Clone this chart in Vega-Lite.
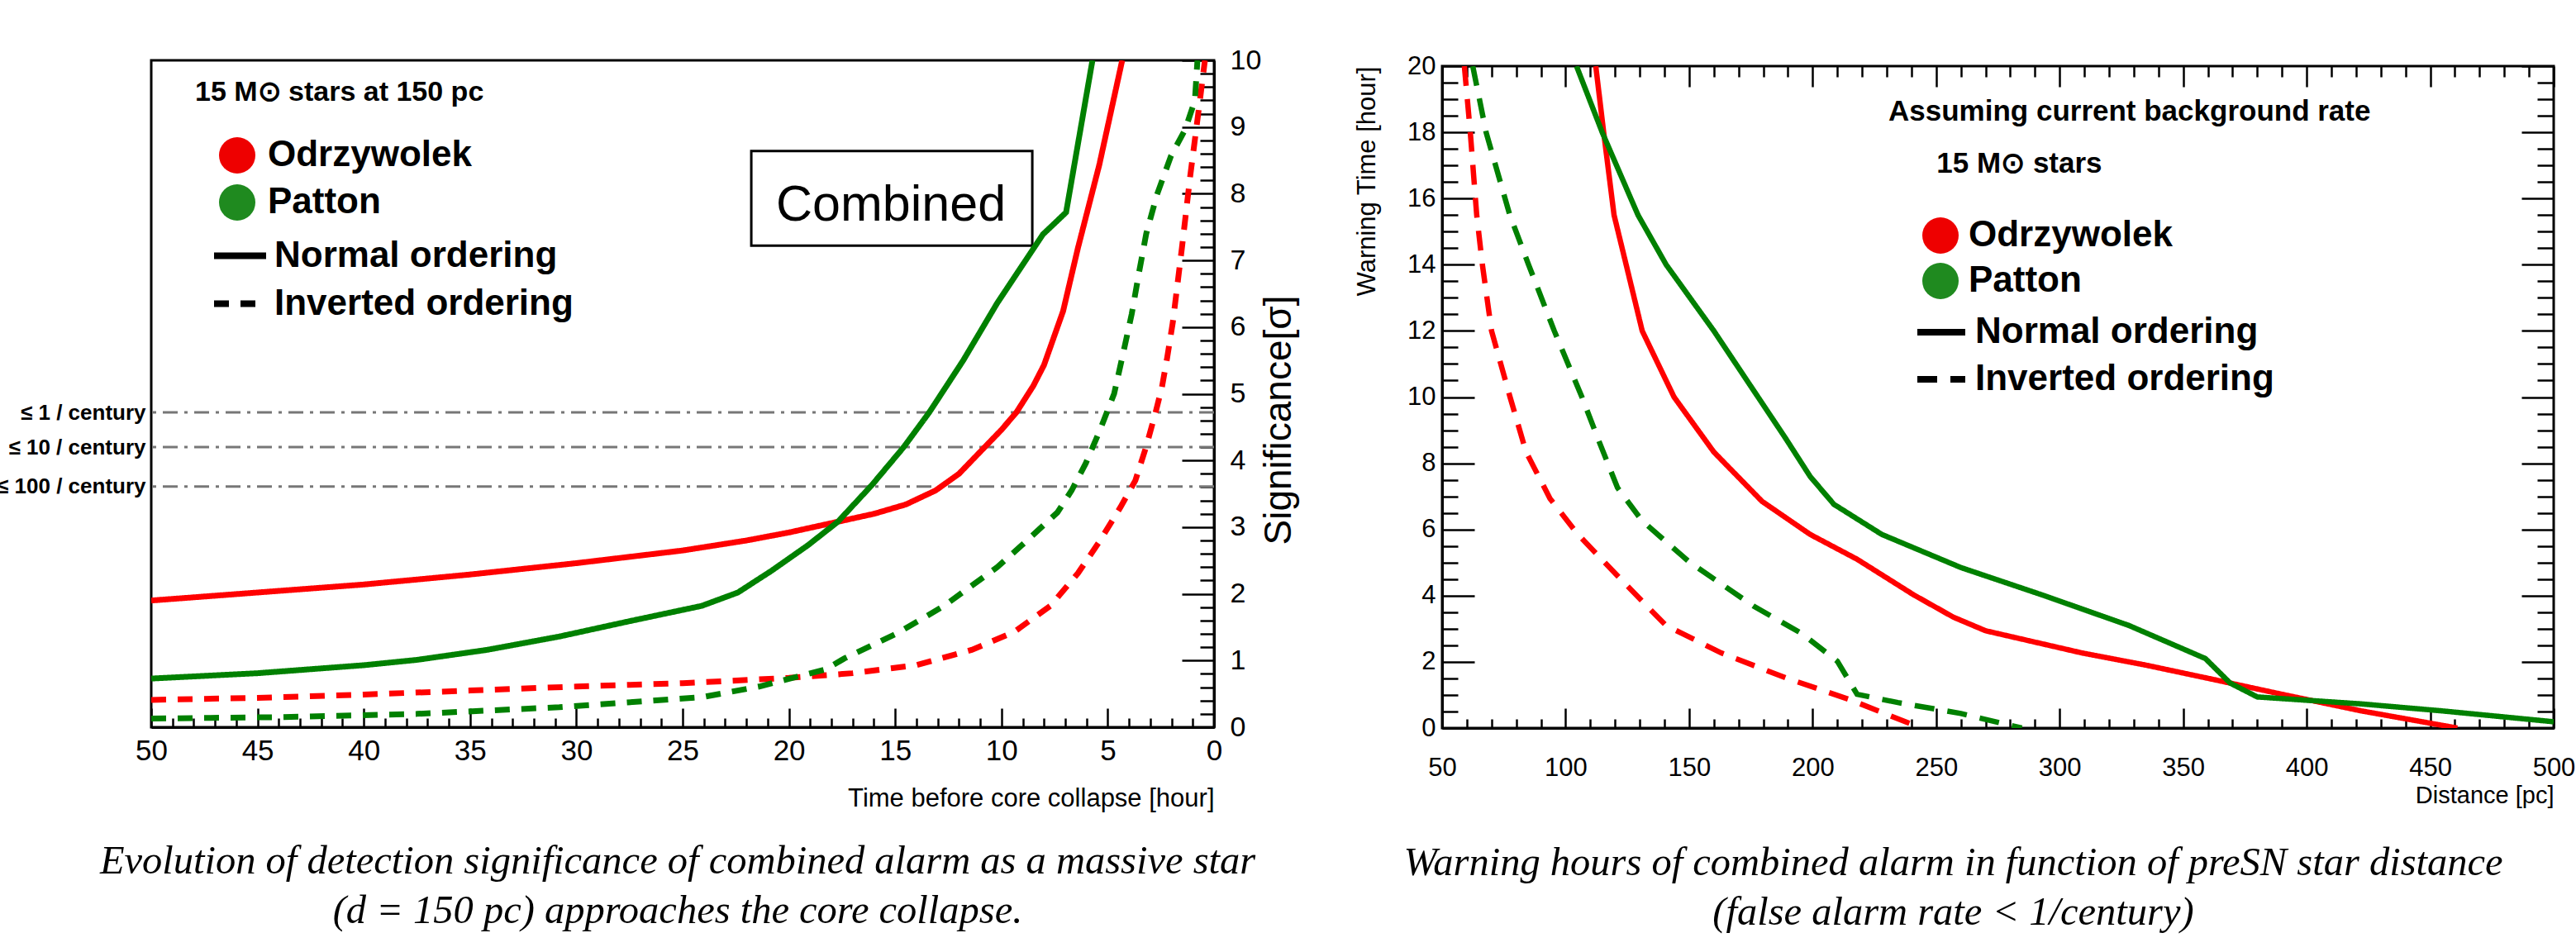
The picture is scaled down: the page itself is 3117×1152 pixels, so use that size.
{
  "$schema": "https://vega.github.io/schema/vega-lite/v6.json",
  "autosize": {"type": "none"},
  "padding": {"left": 183, "top": 73, "right": 2934, "bottom": 1079},
  "background": "white",
  "bounds": "flush",
  "spacing": 276,
  "datasets": {
    "left": [
      {"m":"Odrzywolek","o":"Normal ordering","h":50,"s":1.90},{"m":"Odrzywolek","o":"Normal ordering","h":45,"s":2.02},{"m":"Odrzywolek","o":"Normal ordering","h":40,"s":2.14},{"m":"Odrzywolek","o":"Normal ordering","h":35,"s":2.29},{"m":"Odrzywolek","o":"Normal ordering","h":30,"s":2.46},{"m":"Odrzywolek","o":"Normal ordering","h":25,"s":2.65},{"m":"Odrzywolek","o":"Normal ordering","h":22,"s":2.80},{"m":"Odrzywolek","o":"Normal ordering","h":20,"s":2.92},{"m":"Odrzywolek","o":"Normal ordering","h":18,"s":3.06},{"m":"Odrzywolek","o":"Normal ordering","h":16,"s":3.20},{"m":"Odrzywolek","o":"Normal ordering","h":14.5,"s":3.34},{"m":"Odrzywolek","o":"Normal ordering","h":13.1,"s":3.55},{"m":"Odrzywolek","o":"Normal ordering","h":12,"s":3.80},{"m":"Odrzywolek","o":"Normal ordering","h":11,"s":4.13},{"m":"Odrzywolek","o":"Normal ordering","h":10,"s":4.46},{"m":"Odrzywolek","o":"Normal ordering","h":9.3,"s":4.72},{"m":"Odrzywolek","o":"Normal ordering","h":8.5,"s":5.12},{"m":"Odrzywolek","o":"Normal ordering","h":8,"s":5.43},{"m":"Odrzywolek","o":"Normal ordering","h":7.1,"s":6.24},{"m":"Odrzywolek","o":"Normal ordering","h":6.4,"s":7.19},{"m":"Odrzywolek","o":"Normal ordering","h":5.4,"s":8.43},{"m":"Odrzywolek","o":"Normal ordering","h":4.32,"s":10},
      {"m":"Patton","o":"Normal ordering","h":50,"s":0.73},{"m":"Patton","o":"Normal ordering","h":45,"s":0.81},{"m":"Patton","o":"Normal ordering","h":40,"s":0.93},{"m":"Patton","o":"Normal ordering","h":37.5,"s":1.01},{"m":"Patton","o":"Normal ordering","h":34.2,"s":1.16},{"m":"Patton","o":"Normal ordering","h":30.8,"s":1.36},{"m":"Patton","o":"Normal ordering","h":27.5,"s":1.59},{"m":"Patton","o":"Normal ordering","h":24.1,"s":1.82},{"m":"Patton","o":"Normal ordering","h":22.4,"s":2.02},{"m":"Patton","o":"Normal ordering","h":20.8,"s":2.35},{"m":"Patton","o":"Normal ordering","h":19.1,"s":2.73},{"m":"Patton","o":"Normal ordering","h":17.7,"s":3.08},{"m":"Patton","o":"Normal ordering","h":16.1,"s":3.63},{"m":"Patton","o":"Normal ordering","h":14.6,"s":4.20},{"m":"Patton","o":"Normal ordering","h":13.4,"s":4.72},{"m":"Patton","o":"Normal ordering","h":11.8,"s":5.5},{"m":"Patton","o":"Normal ordering","h":10.2,"s":6.36},{"m":"Patton","o":"Normal ordering","h":8.05,"s":7.39},{"m":"Patton","o":"Normal ordering","h":6.96,"s":7.72},{"m":"Patton","o":"Normal ordering","h":5.72,"s":10},
      {"m":"Odrzywolek","o":"Inverted ordering","h":50,"s":0.41},{"m":"Odrzywolek","o":"Inverted ordering","h":45,"s":0.44},{"m":"Odrzywolek","o":"Inverted ordering","h":40,"s":0.49},{"m":"Odrzywolek","o":"Inverted ordering","h":35,"s":0.55},{"m":"Odrzywolek","o":"Inverted ordering","h":30,"s":0.61},{"m":"Odrzywolek","o":"Inverted ordering","h":25,"s":0.66},{"m":"Odrzywolek","o":"Inverted ordering","h":20,"s":0.74},{"m":"Odrzywolek","o":"Inverted ordering","h":17,"s":0.81},{"m":"Odrzywolek","o":"Inverted ordering","h":14,"s":0.93},{"m":"Odrzywolek","o":"Inverted ordering","h":11.4,"s":1.16},{"m":"Odrzywolek","o":"Inverted ordering","h":9.4,"s":1.43},{"m":"Odrzywolek","o":"Inverted ordering","h":7.7,"s":1.82},{"m":"Odrzywolek","o":"Inverted ordering","h":6.4,"s":2.31},{"m":"Odrzywolek","o":"Inverted ordering","h":5.4,"s":2.78},{"m":"Odrzywolek","o":"Inverted ordering","h":4.4,"s":3.3},{"m":"Odrzywolek","o":"Inverted ordering","h":3.7,"s":3.7},{"m":"Odrzywolek","o":"Inverted ordering","h":3.2,"s":4.2},{"m":"Odrzywolek","o":"Inverted ordering","h":2.75,"s":4.72},{"m":"Odrzywolek","o":"Inverted ordering","h":2.45,"s":5.1},{"m":"Odrzywolek","o":"Inverted ordering","h":2.2,"s":5.55},{"m":"Odrzywolek","o":"Inverted ordering","h":1.94,"s":6.07},{"m":"Odrzywolek","o":"Inverted ordering","h":1.51,"s":7.19},{"m":"Odrzywolek","o":"Inverted ordering","h":1.13,"s":8.24},{"m":"Odrzywolek","o":"Inverted ordering","h":0.68,"s":9.36},{"m":"Odrzywolek","o":"Inverted ordering","h":0.43,"s":10},
      {"m":"Patton","o":"Inverted ordering","h":50,"s":0.13},{"m":"Patton","o":"Inverted ordering","h":44.2,"s":0.15},{"m":"Patton","o":"Inverted ordering","h":37.5,"s":0.20},{"m":"Patton","o":"Inverted ordering","h":30.8,"s":0.30},{"m":"Patton","o":"Inverted ordering","h":24.1,"s":0.45},{"m":"Patton","o":"Inverted ordering","h":21.4,"s":0.61},{"m":"Patton","o":"Inverted ordering","h":18.25,"s":0.87},{"m":"Patton","o":"Inverted ordering","h":17.4,"s":1.03},{"m":"Patton","o":"Inverted ordering","h":14.9,"s":1.41},{"m":"Patton","o":"Inverted ordering","h":12.7,"s":1.82},{"m":"Patton","o":"Inverted ordering","h":10.2,"s":2.40},{"m":"Patton","o":"Inverted ordering","h":9.04,"s":2.73},{"m":"Patton","o":"Inverted ordering","h":7.37,"s":3.22},{"m":"Patton","o":"Inverted ordering","h":6.7,"s":3.55},{"m":"Patton","o":"Inverted ordering","h":6.03,"s":3.96},{"m":"Patton","o":"Inverted ordering","h":5.36,"s":4.46},{"m":"Patton","o":"Inverted ordering","h":4.86,"s":4.87},{"m":"Patton","o":"Inverted ordering","h":4.7,"s":5.0},{"m":"Patton","o":"Inverted ordering","h":4.28,"s":5.6},{"m":"Patton","o":"Inverted ordering","h":3.87,"s":6.2},{"m":"Patton","o":"Inverted ordering","h":3.54,"s":6.8},{"m":"Patton","o":"Inverted ordering","h":3.19,"s":7.4},{"m":"Patton","o":"Inverted ordering","h":2.68,"s":7.99},{"m":"Patton","o":"Inverted ordering","h":2.02,"s":8.57},{"m":"Patton","o":"Inverted ordering","h":1.36,"s":8.96},{"m":"Patton","o":"Inverted ordering","h":0.9,"s":9.4},{"m":"Patton","o":"Inverted ordering","h":0.78,"s":10}
    ],
    "right": [
      {"m":"Odrzywolek","o":"Normal ordering","d":112.2,"t":20},{"m":"Odrzywolek","o":"Normal ordering","d":115.4,"t":18},{"m":"Odrzywolek","o":"Normal ordering","d":119.6,"t":15.5},{"m":"Odrzywolek","o":"Normal ordering","d":124.5,"t":14},{"m":"Odrzywolek","o":"Normal ordering","d":131,"t":12},{"m":"Odrzywolek","o":"Normal ordering","d":143.9,"t":10},{"m":"Odrzywolek","o":"Normal ordering","d":150.3,"t":9.34},{"m":"Odrzywolek","o":"Normal ordering","d":160,"t":8.34},{"m":"Odrzywolek","o":"Normal ordering","d":179.5,"t":6.85},{"m":"Odrzywolek","o":"Normal ordering","d":199,"t":5.85},{"m":"Odrzywolek","o":"Normal ordering","d":218,"t":5.1},{"m":"Odrzywolek","o":"Normal ordering","d":241,"t":4.02},{"m":"Odrzywolek","o":"Normal ordering","d":257,"t":3.35},{"m":"Odrzywolek","o":"Normal ordering","d":270,"t":2.94},{"m":"Odrzywolek","o":"Normal ordering","d":309,"t":2.27},{"m":"Odrzywolek","o":"Normal ordering","d":335,"t":1.9},{"m":"Odrzywolek","o":"Normal ordering","d":364,"t":1.44},{"m":"Odrzywolek","o":"Normal ordering","d":390,"t":1.02},{"m":"Odrzywolek","o":"Normal ordering","d":422,"t":0.52},{"m":"Odrzywolek","o":"Normal ordering","d":461,"t":0},
      {"m":"Patton","o":"Normal ordering","d":104.4,"t":20},{"m":"Patton","o":"Normal ordering","d":114.8,"t":18},{"m":"Patton","o":"Normal ordering","d":129.3,"t":15.5},{"m":"Patton","o":"Normal ordering","d":140.7,"t":14},{"m":"Patton","o":"Normal ordering","d":160,"t":12},{"m":"Patton","o":"Normal ordering","d":177.9,"t":10},{"m":"Patton","o":"Normal ordering","d":189,"t":8.76},{"m":"Patton","o":"Normal ordering","d":199,"t":7.6},{"m":"Patton","o":"Normal ordering","d":208.6,"t":6.76},{"m":"Patton","o":"Normal ordering","d":228,"t":5.85},{"m":"Patton","o":"Normal ordering","d":260,"t":4.85},{"m":"Patton","o":"Normal ordering","d":293,"t":4.02},{"m":"Patton","o":"Normal ordering","d":328,"t":3.1},{"m":"Patton","o":"Normal ordering","d":359,"t":2.1},{"m":"Patton","o":"Normal ordering","d":369,"t":1.36},{"m":"Patton","o":"Normal ordering","d":380,"t":0.94},{"m":"Patton","o":"Normal ordering","d":422,"t":0.73},{"m":"Patton","o":"Normal ordering","d":454.6,"t":0.52},{"m":"Patton","o":"Normal ordering","d":500,"t":0.19},
      {"m":"Odrzywolek","o":"Inverted ordering","d":59,"t":20},{"m":"Odrzywolek","o":"Inverted ordering","d":61.4,"t":18},{"m":"Odrzywolek","o":"Inverted ordering","d":64,"t":15.5},{"m":"Odrzywolek","o":"Inverted ordering","d":66.3,"t":14},{"m":"Odrzywolek","o":"Inverted ordering","d":70,"t":12},{"m":"Odrzywolek","o":"Inverted ordering","d":77.5,"t":10},{"m":"Odrzywolek","o":"Inverted ordering","d":84,"t":8.34},{"m":"Odrzywolek","o":"Inverted ordering","d":93.7,"t":6.93},{"m":"Odrzywolek","o":"Inverted ordering","d":105,"t":5.85},{"m":"Odrzywolek","o":"Inverted ordering","d":121,"t":4.6},{"m":"Odrzywolek","o":"Inverted ordering","d":140.6,"t":3.1},{"m":"Odrzywolek","o":"Inverted ordering","d":163,"t":2.27},{"m":"Odrzywolek","o":"Inverted ordering","d":189,"t":1.52},{"m":"Odrzywolek","o":"Inverted ordering","d":215,"t":0.86},{"m":"Odrzywolek","o":"Inverted ordering","d":244,"t":0},
      {"m":"Patton","o":"Inverted ordering","d":62.4,"t":20},{"m":"Patton","o":"Inverted ordering","d":67.8,"t":18},{"m":"Patton","o":"Inverted ordering","d":77.4,"t":15.5},{"m":"Patton","o":"Inverted ordering","d":85,"t":14},{"m":"Patton","o":"Inverted ordering","d":95.4,"t":12},{"m":"Patton","o":"Inverted ordering","d":106.6,"t":10},{"m":"Patton","o":"Inverted ordering","d":113,"t":8.76},{"m":"Patton","o":"Inverted ordering","d":121,"t":7.26},{"m":"Patton","o":"Inverted ordering","d":131,"t":6.26},{"m":"Patton","o":"Inverted ordering","d":150,"t":5.02},{"m":"Patton","o":"Inverted ordering","d":176,"t":3.69},{"m":"Patton","o":"Inverted ordering","d":195.7,"t":2.85},{"m":"Patton","o":"Inverted ordering","d":210,"t":2.02},{"m":"Patton","o":"Inverted ordering","d":218,"t":1.02},{"m":"Patton","o":"Inverted ordering","d":234.5,"t":0.77},{"m":"Patton","o":"Inverted ordering","d":260,"t":0.44},{"m":"Patton","o":"Inverted ordering","d":284.7,"t":0}
    ]
  },
  "resolve": {
    "scale": {"color": "independent", "strokeDash": "independent"},
    "legend": {"color": "independent", "strokeDash": "independent"}
  },
  "hconcat": [
    {
      "width": 1286,
      "height": 807,
      "title": {
        "text": ["Evolution of detection significance of combined alarm as a massive star", "(d = 150 pc) approaches the core collapse."],
        "orient": "bottom", "frame": "group", "anchor": "middle", "offset": 38, "dx": -6, "baseline": "top"
      },
      "resolve": {"axis": {"x": "independent", "y": "independent"}},
      "layer": [
        {
          "data": {"values": [{"v": 4.72, "rate": "≤ 1 / century"}, {"v": 4.2, "rate": "≤ 10 / century"}, {"v": 3.61, "rate": "≤ 100 / century"}]},
          "mark": {"type": "rule", "color": "#777777", "strokeWidth": 3, "strokeDash": [18, 8, 4, 8]},
          "encoding": {
            "y": {"field": "v", "type": "quantitative", "scale": {"domain": [0, 10], "nice": false, "zero": false},
              "axis": {"orient": "left", "values": [3.61, 4.2, 4.72], "labelExpr": "datum.value > 4.5 ? '≤ 1 / century' : (datum.value > 4 ? '≤ 10 / century' : '≤ 100 / century')", "ticks": false, "tickSize": 0, "domain": false, "labelFontSize": 26, "labelFontWeight": "bold", "labelPadding": 7, "title": null}}
          }
        },
        {
          "data": {"values": [{"label": "Combined", "h1": 21.77, "h2": 8.55, "s1": 7.22, "s2": 8.64, "hc": 15.2, "sc": 7.6}]},
          "layer": [
            {
              "mark": {"type": "rect", "fill": "white", "stroke": "black", "strokeWidth": 3},
              "encoding": {
                "x": {"field": "h1", "type": "quantitative", "scale": {"domain": [0, 50], "reverse": true, "nice": false}, "axis": null},
                "x2": {"field": "h2"},
                "y": {"field": "s1", "type": "quantitative", "scale": {"domain": [0, 10], "nice": false, "zero": false}, "axis": null},
                "y2": {"field": "s2"}
              }
            },
            {
              "mark": {"type": "text", "font": "Liberation Sans", "fontSize": 61, "align": "center", "baseline": "alphabetic", "color": "black"},
              "encoding": {
                "x": {"field": "hc", "type": "quantitative", "scale": {"domain": [0, 50], "reverse": true, "nice": false}, "axis": null},
                "y": {"field": "sc", "type": "quantitative", "scale": {"domain": [0, 10], "nice": false, "zero": false}, "axis": null},
                "text": {"field": "label"}
              }
            }
          ]
        },
        {
          "data": {"name": "left"},
          "mark": {"type": "line", "strokeWidth": 7, "clip": true},
          "encoding": {
            "x": {"field": "h", "type": "quantitative", "scale": {"domain": [0, 50], "reverse": true, "nice": false},
              "axis": {"orient": "bottom", "values": [0, 5, 10, 15, 20, 25, 30, 35, 40, 45, 50], "tickSize": -23, "labelFontSize": 35, "labelPadding": 34,
                "title": "Time before core collapse [hour]", "titleFontSize": 31, "titleX": 1286, "titleY": 95, "titleAlign": "right", "titleBaseline": "alphabetic"}},
            "y": {"field": "s", "type": "quantitative", "scale": {"domain": [0, 10], "nice": false, "zero": false},
              "axis": {"orient": "right", "values": [0, 1, 2, 3, 4, 5, 6, 7, 8, 9, 10], "tickSize": -39, "labelFontSize": 34, "labelPadding": 58,
                "title": "Significance[σ]", "titleFontSize": 46, "titleAngle": -90, "titleX": 92, "titleY": 435, "titleAlign": "center", "titleBaseline": "alphabetic"}},
            "color": {"field": "m", "type": "nominal", "scale": {"domain": ["Odrzywolek", "Patton"], "range": ["#ff0000", "#008000"]},
              "legend": {"orient": "none", "legendX": 53, "legendY": 22, "title": "15 M⊙ stars at 150 pc", "titleFontSize": 34, "titlePadding": 37,
                "symbolType": "circle", "symbolSize": 1936, "symbolOffset": 29, "symbolStrokeWidth": 0, "labelFontSize": 44, "labelOffset": 15, "rowPadding": 13,
                "encode": {"symbols": {"update": {"fill": {"signal": "datum.value === 'Odrzywolek' ? '#ee0000' : '#1f8a1f'"}, "opacity": {"value": 1}}}}}},
            "strokeDash": {"field": "o", "type": "nominal", "scale": {"domain": ["Normal ordering", "Inverted ordering"], "range": [[1, 0], [18, 14]]},
              "legend": {"orient": "none", "legendX": 72, "legendY": 201, "title": null, "symbolType": "stroke", "symbolSize": 3969, "symbolStrokeColor": "black", "symbolStrokeWidth": 8,
                "labelFontSize": 44, "labelOffset": 6, "rowPadding": -6,
                "encode": {"symbols": {"update": {"stroke": {"value": "black"}, "opacity": {"value": 1}}}}}}
          }
        },
        {
          "data": {"name": "left"},
          "mark": {"type": "line", "opacity": 0},
          "encoding": {
            "x": {"field": "h", "type": "quantitative", "scale": {"domain": [0, 50], "reverse": true, "nice": false},
              "axis": {"orient": "bottom", "values": [1,2,3,4,6,7,8,9,11,12,13,14,16,17,18,19,21,22,23,24,26,27,28,29,31,32,33,34,36,37,38,39,41,42,43,44,46,47,48,49], "tickSize": -11, "labels": false, "domain": false, "title": null}},
            "y": {"field": "s", "type": "quantitative", "scale": {"domain": [0, 10], "nice": false, "zero": false},
              "axis": {"orient": "right", "values": [0.2,0.4,0.6,0.8,1.2,1.4,1.6,1.8,2.2,2.4,2.6,2.8,3.2,3.4,3.6,3.8,4.2,4.4,4.6,4.8,5.2,5.4,5.6,5.8,6.2,6.4,6.6,6.8,7.2,7.4,7.6,7.8,8.2,8.4,8.6,8.8,9.2,9.4,9.6,9.8], "tickSize": -17, "labels": false, "domain": false, "title": null}},
            "detail": {"field": "m"}
          }
        }
      ]
    },
    {
      "bounds": "flush",
      "spacing": 6,
      "vconcat": [
        {
          "width": 1345,
          "height": 1,
          "view": {"stroke": null},
          "data": {"values": []},
          "mark": {"type": "rule"},
          "encoding": {}
        },
        {
          "width": 1345,
          "height": 801,
          "title": {
            "text": ["Warning hours of combined alarm in function of preSN star distance", "(false alarm rate < 1/century)"],
            "orient": "bottom", "frame": "group", "anchor": "middle", "offset": 44, "dx": -54, "baseline": "top"
          },
          "resolve": {"axis": {"x": "independent", "y": "independent"}},
          "layer": [
            {
              "data": {"name": "right"},
              "mark": {"type": "line", "strokeWidth": 6.5, "clip": true},
              "encoding": {
                "x": {"field": "d", "type": "quantitative", "scale": {"domain": [50, 500], "nice": false, "zero": false},
                  "axis": {"orient": "bottom", "values": [50, 100, 150, 200, 250, 300, 350, 400, 450, 500], "tickSize": -24, "labelFontSize": 31, "labelPadding": 57,
                    "title": "Distance [pc]", "titleFontSize": 29, "titleX": 1345, "titleY": 90, "titleAlign": "right", "titleBaseline": "alphabetic"}},
                "y": {"field": "t", "type": "quantitative", "scale": {"domain": [0, 20], "nice": false, "zero": false},
                  "axis": {"orient": "left", "values": [0, 2, 4, 6, 8, 10, 12, 14, 16, 18, 20], "tickSize": -39, "labelFontSize": 31, "labelPadding": 47,
                    "title": "Warning Time [hour]", "titleFontSize": 31, "titleAngle": -90, "titleX": -82, "titleY": 0, "titleAlign": "right", "titleBaseline": "alphabetic"}},
                "color": {"field": "m", "type": "nominal", "scale": {"domain": ["Odrzywolek", "Patton"], "range": ["#ff0000", "#008000"]},
                  "legend": {"orient": "none", "legendX": 540, "legendY": 45, "title": ["Assuming current background rate", "\u200b\u00a0\u00a0\u00a0\u00a0\u00a0\u00a015 M⊙ stars"], "titleFontSize": 35, "titleLineHeight": 63, "titlePadding": 47,
                    "symbolType": "circle", "symbolSize": 1936, "symbolOffset": 41, "symbolStrokeWidth": 0, "labelFontSize": 44, "labelOffset": 12, "rowPadding": 11,
                    "encode": {"symbols": {"update": {"fill": {"signal": "datum.value === 'Odrzywolek' ? '#ee0000' : '#1f8a1f'"}, "opacity": {"value": 1}}}}}},
                "strokeDash": {"field": "o", "type": "nominal", "scale": {"domain": ["Normal ordering", "Inverted ordering"], "range": [[1, 0], [24, 16]]},
                  "legend": {"orient": "none", "legendX": 571, "legendY": 296, "title": null, "symbolType": "stroke", "symbolSize": 3364, "symbolStrokeColor": "black", "symbolStrokeWidth": 8,
                    "labelFontSize": 44, "labelOffset": 8, "rowPadding": 2,
                    "encode": {"symbols": {"update": {"stroke": {"value": "black"}, "opacity": {"value": 1}}}}}}
              }
            },
            {
              "data": {"name": "right"},
              "mark": {"type": "line", "opacity": 0},
              "encoding": {
                "x": {"field": "d", "type": "quantitative", "scale": {"domain": [50, 500], "nice": false, "zero": false},
                  "axis": {"orient": "bottom", "values": [60,70,80,90,110,120,130,140,160,170,180,190,210,220,230,240,260,270,280,290,310,320,330,340,360,370,380,390,410,420,430,440,460,470,480,490], "tickSize": -11, "labels": false, "domain": false, "title": null}},
                "y": {"field": "t", "type": "quantitative", "scale": {"domain": [0, 20], "nice": false, "zero": false},
                  "axis": {"orient": "left", "values": [0.5,1,1.5,2.5,3,3.5,4.5,5,5.5,6.5,7,7.5,8.5,9,9.5,10.5,11,11.5,12.5,13,13.5,14.5,15,15.5,16.5,17,17.5,18.5,19,19.5], "tickSize": -19, "labels": false, "domain": false, "title": null}},
                "detail": {"field": "m"}
              }
            },
            {
              "data": {"name": "right"},
              "mark": {"type": "line", "opacity": 0},
              "encoding": {
                "x": {"field": "d", "type": "quantitative", "scale": {"domain": [50, 500], "nice": false, "zero": false},
                  "axis": {"orient": "top", "values": [50, 100, 150, 200, 250, 300, 350, 400, 450, 500], "tickSize": -25, "labels": false, "domain": false, "title": null}},
                "y": {"field": "t", "type": "quantitative", "scale": {"domain": [0, 20], "nice": false, "zero": false},
                  "axis": {"orient": "right", "values": [0, 2, 4, 6, 8, 10, 12, 14, 16, 18, 20], "tickSize": -39, "labels": false, "domain": false, "title": null}},
                "detail": {"field": "m"}
              }
            },
            {
              "data": {"name": "right"},
              "mark": {"type": "line", "opacity": 0},
              "encoding": {
                "x": {"field": "d", "type": "quantitative", "scale": {"domain": [50, 500], "nice": false, "zero": false},
                  "axis": {"orient": "top", "values": [60,70,80,90,110,120,130,140,160,170,180,190,210,220,230,240,260,270,280,290,310,320,330,340,360,370,380,390,410,420,430,440,460,470,480,490], "tickSize": -13, "labels": false, "domain": false, "title": null}},
                "y": {"field": "t", "type": "quantitative", "scale": {"domain": [0, 20], "nice": false, "zero": false},
                  "axis": {"orient": "right", "values": [0.5,1,1.5,2.5,3,3.5,4.5,5,5.5,6.5,7,7.5,8.5,9,9.5,10.5,11,11.5,12.5,13,13.5,14.5,15,15.5,16.5,17,17.5,18.5,19,19.5], "tickSize": -20, "labels": false, "domain": false, "title": null}},
                "detail": {"field": "m"}
              }
            }
          ]
        }
      ]
    }
  ],
  "config": {
    "font": "Liberation Sans",
    "view": {"stroke": "black", "strokeWidth": 3},
    "axis": {"domainColor": "black", "domainWidth": 3, "tickColor": "black", "tickWidth": 2.5, "labelColor": "black", "titleColor": "black",
      "labelFont": "Liberation Sans", "titleFont": "Liberation Sans", "titleFontWeight": "normal", "grid": false,
      "labelFlush": false, "labelOverlap": false, "labelBound": false, "labelLimit": 1000},
    "legend": {"padding": 0, "titleColor": "black", "labelColor": "black", "labelFont": "Liberation Sans", "titleFont": "Liberation Sans",
      "titleFontWeight": "bold", "labelFontWeight": "bold", "labelLimit": 1000, "titleLimit": 1000},
    "title": {"font": "Liberation Serif", "fontStyle": "italic", "fontWeight": "normal", "fontSize": 48.5, "lineHeight": 60, "color": "black"}
  }
}
